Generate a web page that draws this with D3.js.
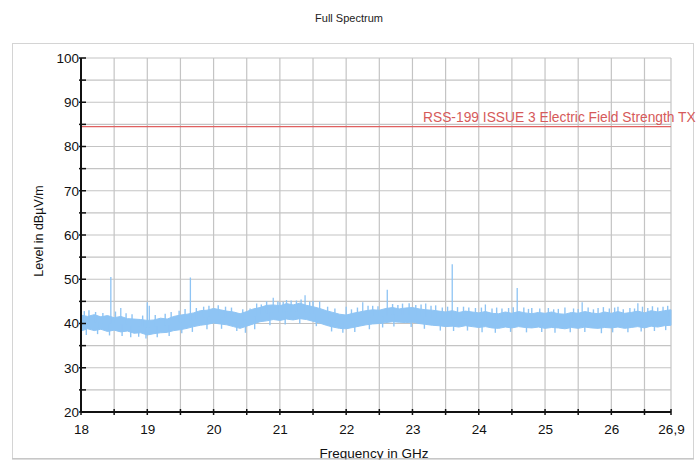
<!DOCTYPE html>
<html><head><meta charset="utf-8">
<script src="https://cdn.jsdelivr.net/npm/d3@7"></script>
<style>body{margin:0;background:#fff}svg{display:block;font-family:"Liberation Sans",Arial,sans-serif}</style>
</head><body><svg id="c" width="700" height="462"></svg>
<script>
const title = "Full Spectrum";
const xLabel = "Frequency in GHz";
const yLabel = "Level in dBµV/m";
const xTickValues = [18, 19, 20, 21, 22, 23, 24, 25, 26, 26.9];
const xTickLabels = ["18", "19", "20", "21", "22", "23", "24", "25", "26", "26,9"];
const yTickValues = [20, 30, 40, 50, 60, 70, 80, 90, 100];
const limitLevel = 84.5;
const limitLabel = "RSS-199 ISSUE 3 Electric Field Strength TX";

const freq = [18.0,18.1,18.2,18.3,18.4,18.5,18.6,18.7,18.8,18.9,
19.0,19.1,19.2,19.3,19.4,19.5,19.6,19.7,19.8,19.9,
20.0,20.1,20.2,20.3,20.4,20.5,20.6,20.7,20.8,20.9,
21.0,21.1,21.2,21.3,21.4,21.5,21.6,21.7,21.8,21.9,
22.0,22.1,22.2,22.3,22.4,22.5,22.6,22.7,22.8,22.9,
23.0,23.1,23.2,23.3,23.4,23.5,23.6,23.7,23.8,23.9,
24.0,24.1,24.2,24.3,24.4,24.5,24.6,24.7,24.8,24.9,
25.0,25.1,25.2,25.3,25.4,25.5,25.6,25.7,25.8,25.9,
26.0,26.1,26.2,26.3,26.4,26.5,26.6,26.7,26.8,26.9];
const levelLow = [38.3,38.8,38.4,38.7,38.2,38.5,38.1,38.3,37.8,37.9,
37.4,37.7,37.9,38.0,38.4,38.6,38.9,39.3,39.6,39.8,
40.1,39.9,39.7,39.3,38.9,39.4,39.9,40.4,40.6,40.9,
40.7,41.0,40.8,41.1,40.9,40.5,40.1,39.6,39.2,38.9,
38.8,39.1,39.4,39.7,39.9,40.0,40.2,40.4,40.3,40.2,
40.3,40.0,39.8,39.6,39.5,39.3,39.4,39.2,39.5,39.3,
39.1,39.3,39.0,38.9,39.2,39.0,39.3,39.1,39.0,39.2,
38.9,39.1,39.0,38.8,39.1,38.9,39.2,39.0,38.9,39.1,
39.0,39.2,38.9,39.1,39.3,39.0,39.4,39.2,39.5,39.6];
const levelHigh = [41.9,41.6,42.0,41.5,41.8,41.3,41.6,41.1,41.0,40.9,
40.7,40.8,41.2,41.0,41.6,41.9,42.1,42.4,42.9,43.0,
43.4,43.1,42.8,42.6,42.2,42.7,43.3,43.6,44.1,44.2,
44.0,44.5,44.2,44.6,44.1,43.8,43.4,42.9,42.5,42.1,
41.9,42.3,42.6,42.9,43.1,43.0,43.4,43.6,43.3,43.5,
43.6,43.3,43.1,43.0,42.8,42.6,42.9,42.5,42.8,42.6,
42.4,42.7,42.3,42.2,42.6,42.3,42.7,42.4,42.2,42.5,
42.3,42.6,42.2,42.1,42.5,42.3,42.7,42.4,42.2,42.6,
42.3,42.7,42.3,42.5,42.8,42.4,42.9,42.6,42.9,43.1];
// distinct emissions above the noise floor
const spikeFreq = [18.45,18.6,19.0,19.03,19.65,20.65,20.9,21.0,21.1,21.38,21.6,22.0,22.25,22.62,23.2,23.6,24.1,24.58,25.56,26.4];
const spikePeak = [50.5,43.5,44.8,44.0,50.4,44.5,45.8,44.8,45.3,46.4,45.0,43.8,44.8,47.6,44.5,53.4,44.3,48.0,44.8,44.6];
// small noise peaks along the top of the trace
const peakFreq = [18.05,18.12,18.22,18.33,18.52,18.68,18.77,18.93,19.12,19.27,19.36,19.48,19.57,19.74,19.85,19.93,20.07,20.18,20.27,20.44,
20.55,20.72,20.8,20.97,21.05,21.17,21.25,21.32,21.45,21.5,21.72,21.83,22.08,22.17,22.33,22.4,22.48,22.7,22.78,22.85,
22.95,23.05,23.13,23.28,23.35,23.45,23.53,23.68,23.77,23.85,23.95,24.04,24.2,24.27,24.35,24.45,24.52,24.68,24.75,24.8,
24.92,25.05,25.13,25.2,25.3,25.43,25.5,25.65,25.73,25.8,25.88,25.97,26.05,26.1,26.18,26.28,26.35,26.47,26.55,26.62,26.7,26.78,26.85];
const peakLevel = [42.8,43.0,42.6,42.4,42.7,42.3,42.1,41.8,41.9,42.2,42.6,42.9,43.3,43.5,43.8,44.0,44.1,43.8,43.6,43.2,
43.4,44.3,45.0,45.0,44.9,45.2,45.2,45.4,45.0,45.1,43.8,43.4,43.2,43.6,44.0,44.0,43.9,44.4,44.2,44.5,
44.6,44.2,44.3,44.0,44.1,43.6,43.8,43.7,43.8,43.6,43.5,43.6,43.4,43.6,43.4,43.5,43.7,43.6,43.3,43.5,
43.4,43.5,43.2,43.3,43.6,43.4,43.3,43.6,43.2,43.5,43.7,43.4,43.6,43.8,43.2,43.5,43.4,43.8,43.5,43.9,43.6,43.8,44.0];
// small noise dips along the bottom of the trace
const dipFreq = [18.08,18.25,18.43,18.62,18.75,18.87,18.98,19.15,19.33,19.52,19.68,19.9,20.12,20.35,20.48,20.62,20.85,21.08,21.3,21.55,
21.78,21.95,22.13,22.35,22.55,22.72,22.98,23.18,23.42,23.62,23.83,24.05,24.25,24.48,24.72,24.95,25.15,25.38,25.6,25.85,
26.02,26.25,26.45,26.65,26.82];
const dipLevel = [37.4,37.6,37.3,37.2,36.9,37.0,36.6,36.9,37.2,37.8,38.1,38.7,38.8,38.3,37.9,38.7,39.6,39.8,40.0,39.4,
38.2,37.9,38.1,38.7,39.1,39.3,39.2,38.8,38.4,38.3,38.4,38.0,37.9,38.1,38.0,38.1,37.9,38.0,38.1,37.8,
38.0,38.0,38.2,38.3,38.5];

const svg = d3.select("#c");
const L = 81, R = 671, T = 58, B = 412;
const x = d3.scaleLinear().domain([18, 26.9]).range([L, R]);
const y = d3.scaleLinear().domain([20, 100]).range([B, T]);

svg.append("text").attr("x", 349).attr("y", 22).attr("text-anchor", "middle")
  .attr("font-size", 11).attr("fill", "#222").text(title);

// outer frame
svg.append("rect").attr("x", 12.5).attr("y", 43.5).attr("width", 681).attr("height", 415)
  .attr("fill", "#fff").attr("stroke", "#d4d4d4");

// grid
const gridX = d3.range(0, 18).map(i => 18 + i * 0.5).concat([26.9]);
const gridY = d3.range(0, 17).map(i => 20 + i * 5);
svg.append("g").selectAll("line").data(gridX).join("line")
  .attr("x1", d => x(d)).attr("x2", d => x(d)).attr("y1", T).attr("y2", B)
  .attr("stroke", "#c4c4c4").attr("stroke-width", 1.2);
svg.append("g").selectAll("line").data(gridY).join("line")
  .attr("x1", L).attr("x2", R).attr("y1", d => y(d)).attr("y2", d => y(d))
  .attr("stroke", "#c4c4c4").attr("stroke-width", 1.2);

// limit line
svg.append("line").attr("x1", L).attr("x2", R).attr("y1", y(limitLevel)).attr("y2", y(limitLevel))
  .attr("stroke", "#e06060").attr("stroke-width", 1.2);
svg.append("text").attr("x", 423).attr("y", y(limitLevel) - 4.5).attr("font-size", 13.8)
  .attr("fill", "#d65a5a").text(limitLabel);

// trace band
const col = "#8ec4f4";
const band = freq.map((f, i) => ({f, lo: levelLow[i], hi: levelHigh[i]}));
svg.append("path").datum(band)
  .attr("d", d3.area().x(d => x(d.f)).y0(d => y(d.lo)).y1(d => y(d.hi)))
  .attr("fill", col).attr("stroke", col).attr("stroke-width", 1);
const midAt = f => d3.scaleLinear().domain(freq).range(freq.map((_, i) => (levelLow[i] + levelHigh[i]) / 2))(f);
const peaks = peakFreq.map((f, i) => ({f, p: peakLevel[i]}));
svg.append("g").selectAll("line").data(peaks).join("line")
  .attr("x1", d => x(d.f)).attr("x2", d => x(d.f)).attr("y1", d => y(midAt(d.f))).attr("y2", d => y(d.p))
  .attr("stroke", col).attr("stroke-width", 1.4);
const dips = dipFreq.map((f, i) => ({f, p: dipLevel[i]}));
svg.append("g").selectAll("line").data(dips).join("line")
  .attr("x1", d => x(d.f)).attr("x2", d => x(d.f)).attr("y1", d => y(midAt(d.f))).attr("y2", d => y(d.p))
  .attr("stroke", col).attr("stroke-width", 1.4);
const spikes = spikeFreq.map((f, i) => ({f, p: spikePeak[i]}));
svg.append("g").selectAll("line").data(spikes).join("line")
  .attr("x1", d => x(d.f)).attr("x2", d => x(d.f)).attr("y1", d => y(midAt(d.f))).attr("y2", d => y(d.p))
  .attr("stroke", col).attr("stroke-width", 1.3);

// axes
const yAxis = d3.axisLeft(y).tickValues(yTickValues).tickSize(0).tickPadding(2).tickFormat(d3.format("d"));
const gy = svg.append("g").attr("transform", `translate(${L},0)`).call(yAxis);
gy.select(".domain").remove();
gy.selectAll("text").attr("font-size", 13.5).attr("fill", "#111").attr("font-family", "Liberation Sans, Arial, sans-serif");
svg.append("g").selectAll("line").data(gridY).join("line")
  .attr("x1", L - 2).attr("x2", L + 5).attr("y1", d => y(d)).attr("y2", d => y(d)).attr("stroke", "#111").attr("stroke-width", 1.5);
svg.append("line").attr("x1", L).attr("x2", L).attr("y1", T).attr("y2", B).attr("stroke", "#111").attr("stroke-width", 2);

const xAxis = d3.axisBottom(x).tickValues(xTickValues).tickSize(0).tickPadding(12)
  .tickFormat((d, i) => xTickLabels[i]);
const gx = svg.append("g").attr("transform", `translate(0,${B})`).call(xAxis);
gx.select(".domain").remove();
gx.selectAll("text").attr("font-size", 13.5).attr("fill", "#111").attr("font-family", "Liberation Sans, Arial, sans-serif");
svg.append("g").selectAll("line").data(gridX).join("line")
  .attr("x1", d => x(d)).attr("x2", d => x(d)).attr("y1", B - 3).attr("y2", B + 3).attr("stroke", "#111").attr("stroke-width", 1.5);
svg.append("line").attr("x1", L).attr("x2", R).attr("y1", B).attr("y2", B).attr("stroke", "#111").attr("stroke-width", 2);

svg.append("text").attr("transform", "translate(43,231) rotate(-90)").attr("text-anchor", "middle")
  .attr("font-size", 12.5).attr("fill", "#111").text(yLabel);
svg.append("text").attr("x", 374).attr("y", 458).attr("text-anchor", "middle")
  .attr("font-size", 13.5).attr("fill", "#111").text(xLabel);
svg.append("rect").attr("x", 0).attr("y", 459.5).attr("width", 700).attr("height", 3).attr("fill", "#fff");
svg.append("line").attr("x1", 12).attr("x2", 694).attr("y1", 459).attr("y2", 459).attr("stroke", "#bbb");
</script></body></html>
